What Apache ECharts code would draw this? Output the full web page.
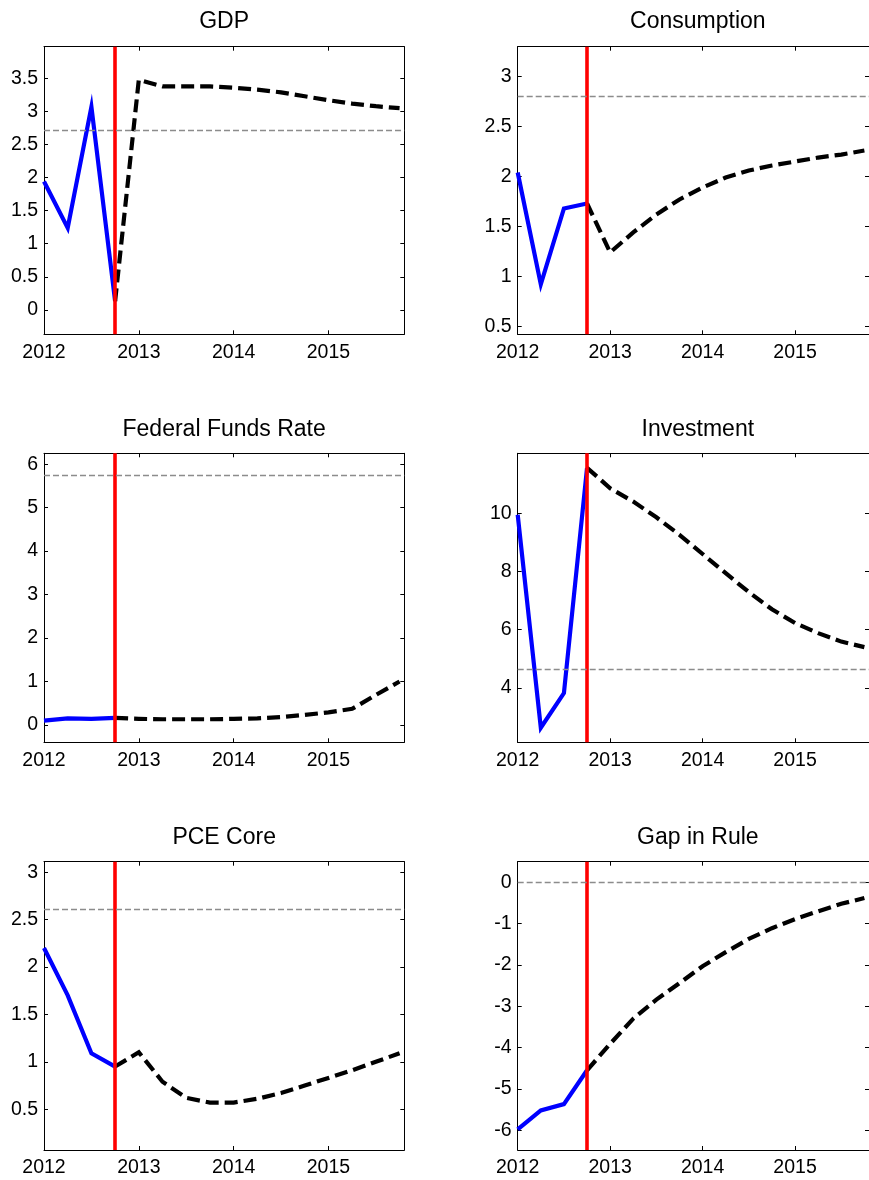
<!DOCTYPE html>
<html>
<head>
<meta charset="utf-8">
<script src="https://cdn.jsdelivr.net/npm/echarts@6/dist/echarts.min.js"></script>
<style>
html,body{margin:0;padding:0;background:#fff;}
#chart{width:869px;height:1180px;}
</style>
</head>
<body>
<div id="chart"></div>
<script>
// ---------- data ----------
const quarters = [2012, 2012.25, 2012.5, 2012.75, 2013, 2013.25, 2013.5, 2013.75,
                  2014, 2014.25, 2014.5, 2014.75, 2015, 2015.25, 2015.5, 2015.75];
const xTickValues = [2012, 2013, 2014, 2015];
const forecastStart = 2012.75;
const xMin = 2012;
const xMax = 2015.8;

const titles = ['GDP', 'Consumption', 'Federal Funds Rate', 'Investment', 'PCE Core', 'Gap in Rule'];

// history: 2012Q1..2012Q4, projection: 2012Q4..2015Q4
const gdpHist  = [1.94, 1.24, 3.07, 0.13];
const gdpProj  = [0.13, 3.48, 3.38, 3.38, 3.38, 3.36, 3.33, 3.29, 3.23, 3.17, 3.12, 3.08, 3.05];
const gdpSS    = 2.72;
const gdpTicks = [0, 0.5, 1, 1.5, 2, 2.5, 3, 3.5];

const consHist  = [2.04, 0.92, 1.68, 1.73];
const consProj  = [1.73, 1.24, 1.44, 1.62, 1.77, 1.89, 1.99, 2.06, 2.11, 2.15, 2.19, 2.22, 2.26];
const consSS    = 2.8;
const consTicks = [0.5, 1, 1.5, 2, 2.5, 3];

const ffrHist  = [0.10, 0.15, 0.14, 0.16];
const ffrProj  = [0.16, 0.14, 0.13, 0.13, 0.13, 0.14, 0.15, 0.18, 0.23, 0.29, 0.37, 0.69, 1.00];
const ffrSS    = 5.75;
const ffrTicks = [0, 1, 2, 3, 4, 5, 6];

const invHist  = [9.95, 2.63, 3.82, 11.56];
const invProj  = [11.56, 10.86, 10.40, 9.86, 9.26, 8.60, 7.94, 7.29, 6.70, 6.23, 5.88, 5.59, 5.40];
const invSS    = 4.65;
const invTicks = [4, 6, 8, 10];

const pceHist  = [2.20, 1.70, 1.09, 0.95];
const pceProj  = [0.95, 1.10, 0.79, 0.62, 0.57, 0.57, 0.61, 0.67, 0.75, 0.83, 0.91, 1.00, 1.09];
const pceSS    = 2.61;
const pceTicks = [0.5, 1, 1.5, 2, 2.5, 3];

const gapHist  = [-5.98, -5.52, -5.37, -4.55];
const gapProj  = [-4.55, -3.91, -3.30, -2.84, -2.44, -2.03, -1.69, -1.37, -1.11, -0.89, -0.70, -0.52, -0.38];
const gapSS    = 0;
const gapTicks = [-6, -5, -4, -3, -2, -1, 0];

const panels = [
  {hist: gdpHist,  proj: gdpProj,  ss: gdpSS,  ticks: gdpTicks},
  {hist: consHist, proj: consProj, ss: consSS, ticks: consTicks},
  {hist: ffrHist,  proj: ffrProj,  ss: ffrSS,  ticks: ffrTicks},
  {hist: invHist,  proj: invProj,  ss: invSS,  ticks: invTicks},
  {hist: pceHist,  proj: pceProj,  ss: pceSS,  ticks: pceTicks},
  {hist: gapHist,  proj: gapProj,  ss: gapSS,  ticks: gapTicks}
];

// ---------- layout ----------
const FONT = 'Liberation Sans, Arial, Helvetica, sans-serif';
const colLeft = [44, 517.7];
const gridW = 360.3;
const rowTop = [46.7, 453.3, 861.7];
const rowH = [287.6, 289, 288.3];
const titleY = [22, 430, 837.5];

const grids = [], xAxes = [], yAxes = [], series = [], graphics = [];

panels.forEach((p, i) => {
  const col = i % 2, row = Math.floor(i / 2);
  grids.push({left: colLeft[col], top: rowTop[row], width: gridW, height: rowH[row], containLabel: false});

  const all = p.hist.concat(p.proj, [p.ss]);
  const yMin = Math.min.apply(null, all) - 0.5;
  const yMax = Math.max.apply(null, all) + 0.5;

  const axisLine = {show: true, onZero: false, lineStyle: {color: '#000', width: 1}};
  const tick = (vals) => ({show: true, inside: true, length: 4, customValues: vals, lineStyle: {color: '#000', width: 1}});

  xAxes.push({
    type: 'value', gridIndex: i, position: 'bottom', min: xMin, max: xMax,
    axisLine: axisLine, axisTick: tick(xTickValues), splitLine: {show: false},
    axisLabel: {show: true, customValues: xTickValues, margin: 8, color: '#000', fontSize: 19.5, fontFamily: FONT,
                formatter: v => String(v)}
  });
  xAxes.push({
    type: 'value', gridIndex: i, position: 'top', min: xMin, max: xMax,
    axisLine: axisLine, axisTick: tick(xTickValues), splitLine: {show: false},
    axisLabel: {show: false, customValues: xTickValues}
  });
  yAxes.push({
    type: 'value', gridIndex: i, position: 'left', min: yMin, max: yMax,
    axisLine: axisLine, axisTick: tick(p.ticks), splitLine: {show: false},
    axisLabel: {show: true, customValues: p.ticks, margin: 6, color: '#000', fontSize: 19.5, fontFamily: FONT,
                formatter: v => String(v)}
  });
  yAxes.push({
    type: 'value', gridIndex: i, position: 'right', min: yMin, max: yMax,
    axisLine: axisLine, axisTick: tick(p.ticks), splitLine: {show: false},
    axisLabel: {show: false, customValues: p.ticks}
  });

  const histData = p.hist.map((v, k) => [quarters[k], v]);
  const projData = p.proj.map((v, k) => [quarters[k + 3], v]);

  series.push({
    type: 'line', xAxisIndex: 2 * i, yAxisIndex: 2 * i, data: histData,
    symbol: 'none', z: 3,
    lineStyle: {color: '#0000ff', width: 4.2, join: 'miter'}
  });
  series.push({
    type: 'line', xAxisIndex: 2 * i, yAxisIndex: 2 * i, data: projData,
    symbol: 'none', z: 3,
    lineStyle: {color: '#000', width: 4.2, type: [13, 6], join: 'miter'}
  });
  series.push({
    type: 'line', xAxisIndex: 2 * i, yAxisIndex: 2 * i, data: [],
    symbol: 'none', z: 4,
    markLine: {
      silent: true, symbol: ['none', 'none'], animation: false, label: {show: false},
      data: [
        {xAxis: forecastStart, lineStyle: {color: '#ff0000', width: 3.6, type: 'solid'}},
        {yAxis: p.ss, lineStyle: {color: '#8c8c8c', width: 1.3, type: [6, 3]}}
      ]
    }
  });

  graphics.push({
    type: 'text', x: colLeft[col] + gridW / 2, y: titleY[row],
    style: {text: titles[i], fill: '#000', font: '23px ' + FONT,
            align: 'center', verticalAlign: 'middle', textAlign: 'center', textVerticalAlign: 'middle'}
  });
});

const chart = echarts.init(document.getElementById('chart'), null, {renderer: 'canvas'});
chart.setOption({
  animation: false,
  backgroundColor: '#fff',
  grid: grids,
  xAxis: xAxes,
  yAxis: yAxes,
  series: series,
  graphic: graphics
});
</script>
</body>
</html>
